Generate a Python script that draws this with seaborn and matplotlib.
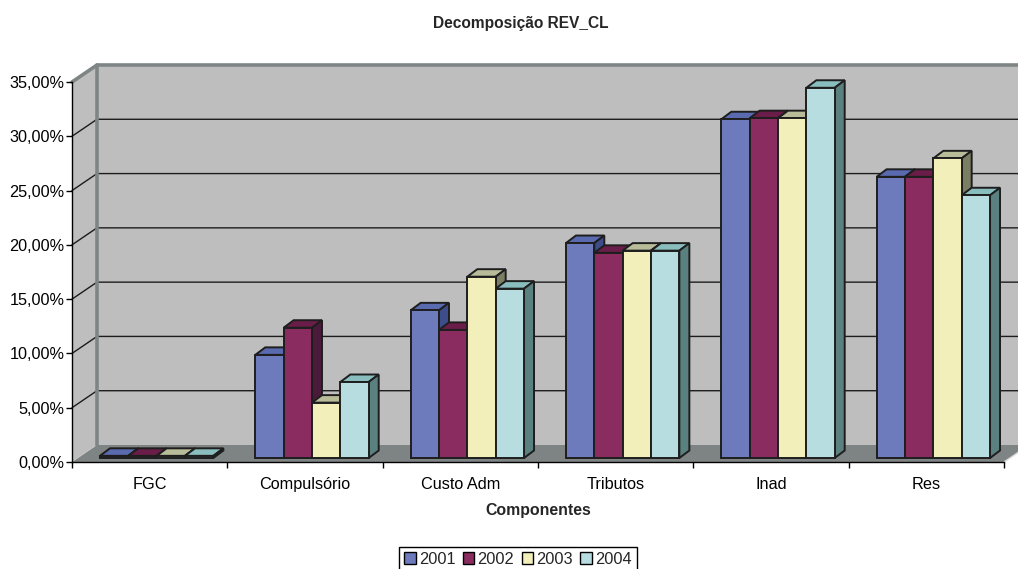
import matplotlib
matplotlib.use("Agg")
import numpy as np
import pandas as pd
import seaborn as sns
import matplotlib.pyplot as plt
from matplotlib.patches import Polygon, Patch
from matplotlib.lines import Line2D
from matplotlib.transforms import ScaledTranslation
from matplotlib.ticker import FuncFormatter, FixedLocator

# ---- data (percent) ----
componentes = ["FGC", "Compulsório", "Custo Adm", "Tributos", "Inad", "Res"]
anos = ["2001", "2002", "2003", "2004"]
v2001 = [0.2, 9.5, 13.6, 19.8, 31.2, 25.9]
v2002 = [0.2, 12.0, 11.8, 18.9, 31.3, 25.9]
v2003 = [0.2, 5.1, 16.7, 19.1, 31.3, 27.6]
v2004 = [0.2, 7.0, 15.6, 19.1, 34.1, 24.2]
yticks = [0, 5, 10, 15, 20, 25, 30, 35]

front_colors = ["#6d7bbd", "#8b2c60", "#f2efbb", "#b8dde0"]
top_colors = ["#5a6aae", "#6b1d49", "#b9bc99", "#89bdbe"]
side_colors = ["#3d4c8a", "#4a1a3a", "#7a7e62", "#5a817f"]

df = pd.DataFrame({
    "Componente": componentes * 4,
    "Ano": np.repeat(anos, len(componentes)),
    "Valor": v2001 + v2002 + v2003 + v2004,
})

sns.set_style("white")
plt.rcParams["font.family"] = ["Liberation Sans", "DejaVu Sans"]

W, H = 1018, 569
fig = plt.figure(figsize=(W / 100, H / 100), dpi=100)
ax = fig.add_axes([72 / W, (H - 462) / H, 932 / W, 380 / H])
ax.patch.set_visible(False)

sns.barplot(data=df, x="Componente", y="Valor", hue="Ano", order=componentes,
            hue_order=anos, palette=front_colors, width=0.73, saturation=1,
            edgecolor="#1e1e1e", linewidth=1.4, legend=False, ax=ax)
bars = sorted(ax.patches, key=lambda p: p.get_x())

ax.set_xlim(-0.5, len(componentes) - 0.5)
ax.set_ylim(0, 35)
x0, x1 = ax.get_xlim()
ytop = yticks[-1]

inv = fig.transFigure.inverted()


def pt(x, y, dx=0.0, dy=0.0):
    """Data point shifted by (dx, dy) pixels, returned in figure fraction."""
    p = ax.transData.transform((x, y))
    return inv.transform((p[0] + dx, p[1] + dy))


def poly(points, **kw):
    ax.add_patch(Polygon(points, closed=True, transform=fig.transFigure,
                         clip_on=False, **kw))


def line(points, **kw):
    xs, ys = zip(*points)
    ax.add_line(Line2D(xs, ys, transform=fig.transFigure, clip_on=False, **kw))


# ---- walls and floor (oblique depth) ----
DX, DY = 25, 17
wall = "#bebebe"
poly([pt(x0, 0), pt(x1, 0), pt(x1, 0, DX, DY), pt(x0, 0, DX, DY)],
     facecolor="#7e8383", edgecolor="none", zorder=0.1)
poly([pt(x0, 0, DX, DY), pt(x1, 0, DX, DY), pt(x1, ytop, DX, DY), pt(x0, ytop, DX, DY)],
     facecolor=wall, edgecolor="none", zorder=0.1)
poly([pt(x0, 0), pt(x0, ytop), pt(x0, ytop, DX, DY), pt(x0, 0, DX, DY)],
     facecolor=wall, edgecolor="none", zorder=0.1)
for v in yticks[1:-1]:
    line([pt(x0, v), pt(x0, v, DX, DY), pt(x1, v, DX, DY)],
         color="#1c1c1c", lw=1.0, zorder=0.2)
line([pt(x0, 0, DX, DY), pt(x0, ytop, DX, DY)], color="#7f8585", lw=2.6, zorder=0.3)
line([pt(x0, ytop), pt(x0, ytop, DX, DY), pt(x1, ytop, DX, DY)],
     color="#7f8585", lw=2.6, zorder=0.3)
line([pt(x1, 0), pt(x1, 0, DX, DY)], color="#d8d8d8", lw=1.0, zorder=0.3)

# ---- 3D bars: front faces from seaborn, plus top and side faces ----
FX, FY = 7, 4        # front plane of the bars
BX, BY = 17, 11.5    # back plane of the bars
edge = dict(edgecolor="#1e1e1e", linewidth=1.4, joinstyle="miter")
shift = ScaledTranslation(FX / 100, FY / 100, fig.dpi_scale_trans)
z = 1.0
for b in bars:
    fc = matplotlib.colors.to_hex(b.get_facecolor())
    k = front_colors.index(fc)
    xa, xb = b.get_x(), b.get_x() + b.get_width()
    h = b.get_height()
    b.set_transform(ax.transData + shift)
    b.set_clip_on(False)
    b.set_zorder(z + 0.2)
    poly([pt(xa, h, FX, FY), pt(xb, h, FX, FY), pt(xb, h, BX, BY), pt(xa, h, BX, BY)],
         facecolor=top_colors[k], zorder=z, **edge)
    poly([pt(xb, 0, FX, FY), pt(xb, 0, BX, BY), pt(xb, h, BX, BY), pt(xb, h, FX, FY)],
         facecolor=side_colors[k], zorder=z + 0.1, **edge)
    z += 1

# ---- axes: front spines, ticks and labels ----
for s in ("top", "right"):
    ax.spines[s].set_visible(False)
for s in ("left", "bottom"):
    ax.spines[s].set_color("black")
    ax.spines[s].set_linewidth(1.0)
    ax.spines[s].set_zorder(z + 1)

ax.set_yticks(yticks)
ax.yaxis.set_major_formatter(FuncFormatter(lambda v, _: f"{v:.2f}%".replace(".", ",")))
ax.tick_params(axis="y", direction="out", length=4, width=1, pad=1.5,
               labelsize=11.7, colors="black", left=True)

ax.set_xticks(range(len(componentes)))
ax.set_xticklabels(componentes)
ax.xaxis.set_minor_locator(FixedLocator(np.arange(x0, x1 + 0.01, 1.0)))
ax.tick_params(axis="x", which="major", length=0, pad=11, labelsize=11.7, colors="black")
ax.tick_params(axis="x", which="minor", direction="out", length=4.5, width=1,
               bottom=True, color="black")
ax.set_xlabel("")
ax.set_ylabel("")

fig.text(538 / W, 1 - 515 / H, "Componentes", ha="center", va="baseline",
         fontsize=11.4, fontweight="bold")
fig.text(521 / W, 1 - 28 / H, "Decomposição REV_CL", ha="center", va="baseline",
         fontsize=11.2, fontweight="bold")

handles = [Patch(facecolor=front_colors[i], edgecolor="black", linewidth=1.0)
           for i in range(len(anos))]
leg = fig.legend(handles, anos, loc="upper center", bbox_to_anchor=(518 / W, 1 - 547 / H),
                 ncol=4, frameon=True, fancybox=False, edgecolor="black", framealpha=1,
                 handlelength=0.7, handleheight=0.7, handletextpad=0.2,
                 columnspacing=0.45, borderpad=0.3, borderaxespad=0, fontsize=11.8)
leg.get_frame().set_linewidth(1.0)

fig.savefig("out.png", dpi=100, facecolor="white")
